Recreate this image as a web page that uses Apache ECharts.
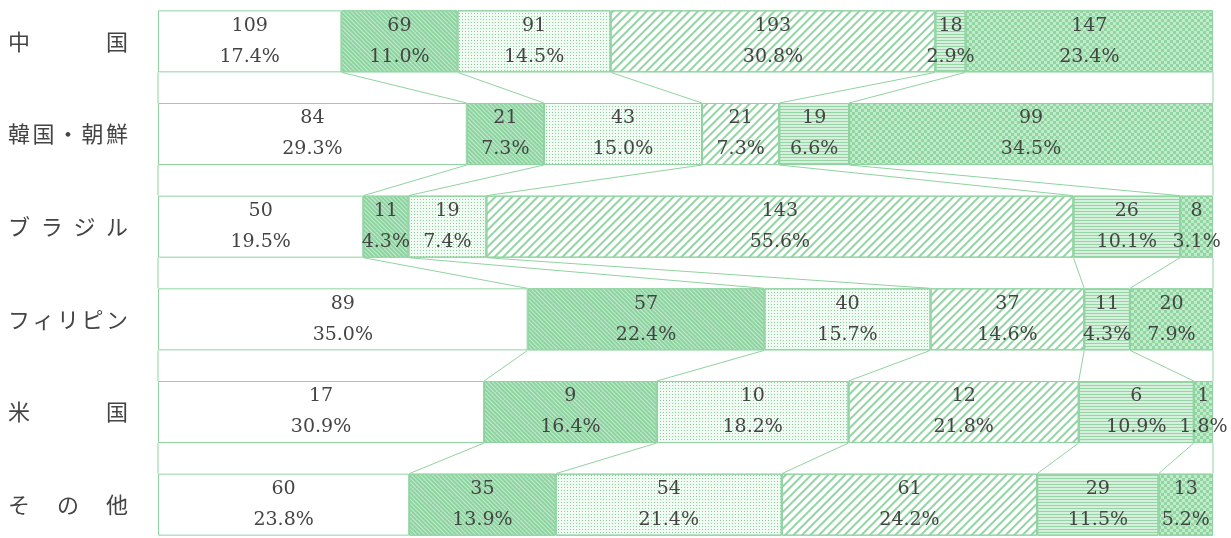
<!DOCTYPE html>
<html>
<head>
<meta charset="utf-8">
<script src="https://cdn.jsdelivr.net/npm/echarts@6/dist/echarts.min.js"></script>
<style>
  html, body { margin: 0; padding: 0; background: #fff; overflow: hidden; width: 1231px; height: 538px; }
  /* the bottom bar is cut by the picture edge, so the chart runs a bit past it */
  #chart { position: absolute; left: 0; top: -5px; width: 1231px; height: 556px; }
</style>
</head>
<body>
<div id="chart"></div>
<script>
// 国籍
const countries = ['中国', '韓国・朝鮮', 'ブラジル', 'フィリピン', '米国', 'その他'];

// 人数（区分ごと、上の国順）
const cnt1 = [109, 84, 50, 89, 17, 60];
const cnt2 = [69, 21, 11, 57, 9, 35];
const cnt3 = [91, 43, 19, 40, 10, 54];
const cnt4 = [193, 21, 143, 37, 12, 61];
const cnt5 = [18, 19, 26, 11, 6, 29];
const cnt6 = [147, 99, 8, 20, 1, 13];

// 構成比（％、表示用）
const pct1 = [17.4, 29.3, 19.5, 35.0, 30.9, 23.8];
const pct2 = [11.0, 7.3, 4.3, 22.4, 16.4, 13.9];
const pct3 = [14.5, 15.0, 7.4, 15.7, 18.2, 21.4];
const pct4 = [30.8, 7.3, 55.6, 14.6, 21.8, 24.2];
const pct5 = [2.9, 6.6, 10.1, 4.3, 10.9, 11.5];
const pct6 = [23.4, 34.5, 3.1, 7.9, 1.8, 5.2];

const counts = [cnt1, cnt2, cnt3, cnt4, cnt5, cnt6];
const pcts = [pct1, pct2, pct3, pct4, pct5, pct6];

const LINE = '#8fd3a0';
const BAR_W = 62;

// 各国の合計と、区分ごとの長さ（100%換算）
const totals = countries.map((_, i) => counts.reduce((s, c) => s + c[i], 0));
const shares = counts.map(c => c.map((v, i) => v / totals[i] * 100));

// 区分の境目の累積位置
const cum = countries.map((_, i) => {
  const out = [0];
  shares.forEach(s => out.push(out[out.length - 1] + s[i]));
  return out;
});

// 隣の棒どうしを結ぶ線 [上の棒の位置, 下の棒の位置, 上の棒の番号]
const links = [];
for (let i = 0; i < countries.length - 1; i++) {
  for (let k = 0; k < cum[i].length; k++) {
    links.push([cum[i][k], cum[i + 1][k], i]);
  }
}

// 模様
const styles = [
  { color: '#ffffff' },
  { color: '#8cd49f', decal: { symbol: 'rect', symbolSize: 1, color: 'rgba(255,255,255,0.5)', dashArrayX: [1, 0], dashArrayY: [1, 2], rotation: Math.PI / 4 } },
  { color: '#f2faf4', decal: { symbol: 'rect', symbolSize: 1, color: '#86d199', dashArrayX: [1, 2], dashArrayY: [1, 2], rotation: 0 } },
  { color: '#ffffff', decal: { symbol: 'rect', symbolSize: 1, color: '#92d5a3', dashArrayX: [1, 0], dashArrayY: [2, 4], rotation: -Math.PI / 4 } },
  { color: '#d6f0dd', decal: { symbol: 'rect', symbolSize: 1, color: '#93d6a4', dashArrayX: [1, 0], dashArrayY: [1, 2], rotation: 0 } },
  { color: '#c2eacb', decal: { symbol: 'rect', symbolSize: 1, color: '#90d5a2', dashArrayX: [[3, 3], [0, 3, 3, 0]], dashArrayY: [3, 0], rotation: 0 } }
];

const chart = echarts.init(document.getElementById('chart'));

const barSeries = counts.map((c, s) => ({
  name: '区分' + (s + 1),
  type: 'bar',
  stack: 'all',
  barWidth: BAR_W,
  z: 2,
  data: shares[s].map((v, i) => ({ value: v, cnt: c[i], pct: pcts[s][i] })),
  itemStyle: Object.assign({ borderColor: LINE, borderWidth: 1 }, styles[s]),
  label: {
    show: true,
    position: 'inside',
    color: '#444',
    fontFamily: 'DejaVu Serif',
    fontSize: 19,
    lineHeight: 31,
    formatter: p => p.data.cnt + '\n' + p.data.pct.toFixed(1) + '%'
  }
}));

chart.setOption({
  animation: false,
  grid: { left: 158, right: 18, top: 0, bottom: 0 },
  xAxis: {
    type: 'value',
    min: 0,
    max: 100,
    show: false
  },
  yAxis: {
    type: 'category',
    inverse: true,
    data: countries,
    axisLine: { show: false },
    axisTick: { show: false },
    splitLine: { show: false },
    axisLabel: {
      align: 'left',
      margin: 150,
      color: '#444',
      fontFamily: 'Noto Sans CJK JP',
      fontSize: 22,
      formatter: s => {
        const ch = Array.from(s);
        const n = ch.length;
        return ch.map((c, j) => '{' + (j < n - 1 ? 'w' + n : 'e') + '|' + c + '}').join('');
      },
      rich: {
        w2: { width: 98, fontSize: 22, fontFamily: 'Noto Sans CJK JP', color: '#444' },
        w3: { width: 49, fontSize: 22, fontFamily: 'Noto Sans CJK JP', color: '#444' },
        w4: { width: 32.7, fontSize: 22, fontFamily: 'Noto Sans CJK JP', color: '#444' },
        w5: { width: 24.5, fontSize: 22, fontFamily: 'Noto Sans CJK JP', color: '#444' },
        e: { width: 22, fontSize: 22, fontFamily: 'Noto Sans CJK JP', color: '#444' }
      }
    }
  },
  series: barSeries.concat([{
    type: 'custom',
    silent: true,
    z: 1,
    data: links,
    encode: { x: [0, 1], y: 2 },
    renderItem: (params, api) => {
      const i = api.value(2);
      const a = api.coord([api.value(0), i]);
      const b = api.coord([api.value(1), i + 1]);
      const h = BAR_W / 2;
      return {
        type: 'line',
        shape: { x1: a[0], y1: a[1] + h, x2: b[0], y2: b[1] - h },
        style: { stroke: LINE, lineWidth: 1 }
      };
    }
  }])
});

window.addEventListener('resize', () => chart.resize());
</script>
</body>
</html>
